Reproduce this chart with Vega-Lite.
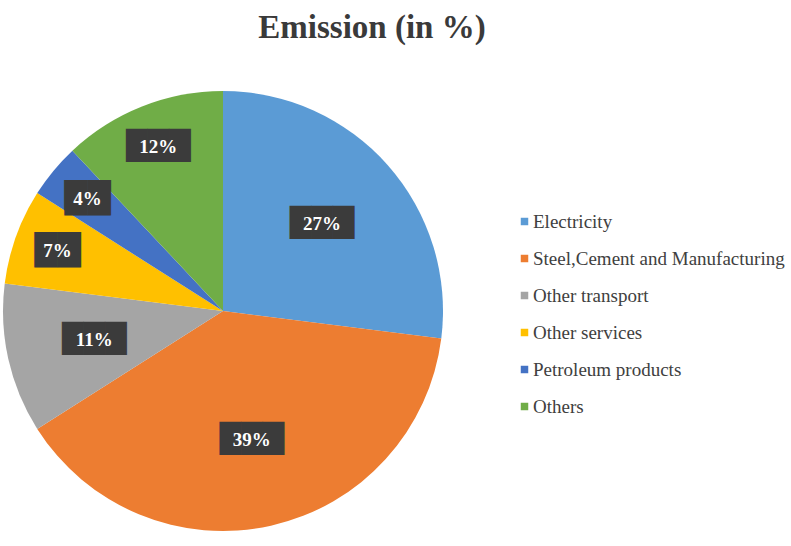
{
  "$schema": "https://vega.github.io/schema/vega-lite/v6.json",
  "width": 446,
  "height": 470,
  "autosize": {"type": "none"},
  "padding": {"left": 0, "top": 76, "right": 345, "bottom": 0},
  "background": "white",
  "config": {"view": {"stroke": null}, "font": "Liberation Serif"},
  "title": {
    "text": "Emission (in %)",
    "font": "Liberation Serif",
    "fontSize": 33,
    "fontWeight": "bold",
    "color": "#3a3a3a",
    "anchor": "middle",
    "frame": "group",
    "dx": 149,
    "offset": 5,
    "baseline": "alphabetic"
  },
  "data": {
    "values": [
      {"idx": 1, "name": "Electricity", "value": 27},
      {"idx": 2, "name": "Steel,Cement and Manufacturing", "value": 39},
      {"idx": 3, "name": "Other transport", "value": 11},
      {"idx": 4, "name": "Other services", "value": 7},
      {"idx": 5, "name": "Petroleum products", "value": 4},
      {"idx": 6, "name": "Others", "value": 12}
    ]
  },
  "transform": [{"calculate": "datum.value + '%'", "as": "label"}],
  "encoding": {
    "theta": {"field": "value", "type": "quantitative", "stack": true},
    "order": {"field": "idx", "type": "quantitative"}
  },
  "layer": [
    {
      "mark": {"type": "arc", "outerRadius": 220},
      "encoding": {
        "color": {
          "field": "name",
          "type": "nominal",
          "scale": {
            "domain": ["Electricity", "Steel,Cement and Manufacturing", "Other transport", "Other services", "Petroleum products", "Others"],
            "range": ["#5B9BD5", "#ED7D31", "#A5A5A5", "#FFC000", "#4472C4", "#70AD47"]
          },
          "legend": {
            "title": null,
            "orient": "none",
            "legendX": 515,
            "legendY": 136,
            "symbolType": "square",
            "symbolSize": 56,
            "symbolStrokeWidth": 0,
            "labelFont": "Liberation Serif",
            "labelFontSize": 19,
            "labelColor": "#404040",
            "labelLimit": 0,
            "rowPadding": 17,
            "labelOffset": -1,
            "padding": 0
          }
        }
      }
    },
    {
      "mark": {"type": "text", "radius": 132, "font": "DejaVu Sans", "color": "#3b3b3b", "baseline": "middle", "align": "center", "fontSize": 28},
      "encoding": {
        "detail": {"field": "name", "type": "nominal"},
        "text": {"condition": {"test": "datum.idx <= 3", "value": "███"}, "value": ""}
      }
    },
    {
      "mark": {"type": "text", "radius": 176, "font": "DejaVu Sans", "color": "#3b3b3b", "baseline": "middle", "align": "center"},
      "encoding": {
        "detail": {"field": "name", "type": "nominal"},
        "text": {"condition": [{"test": "datum.idx <= 3", "value": ""}, {"test": "datum.value >= 10", "value": "███"}], "value": "██"},
        "size": {"condition": {"test": "datum.value >= 10", "value": 28}, "value": 30}
      }
    },
    {
      "mark": {"type": "text", "radius": 132, "font": "Liberation Serif", "fontWeight": "bold", "fontSize": 19, "color": "white", "baseline": "middle", "align": "center"},
      "encoding": {
        "detail": {"field": "name", "type": "nominal"},
        "text": {"condition": {"test": "datum.idx <= 3", "field": "label", "type": "nominal"}, "value": ""}
      }
    },
    {
      "mark": {"type": "text", "radius": 176, "font": "Liberation Serif", "fontWeight": "bold", "fontSize": 19, "color": "white", "baseline": "middle", "align": "center"},
      "encoding": {
        "detail": {"field": "name", "type": "nominal"},
        "text": {"condition": {"test": "datum.idx > 3", "field": "label", "type": "nominal"}, "value": ""}
      }
    }
  ]
}
